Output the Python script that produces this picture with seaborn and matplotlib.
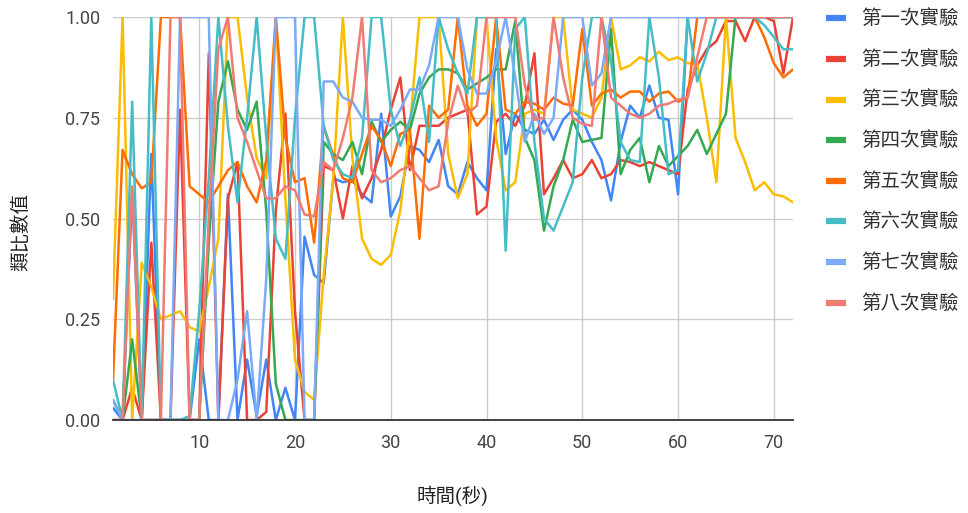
import numpy as np
import pandas as pd
import seaborn as sns
import matplotlib.pyplot as plt

# time axis (seconds)
seconds = list(range(1, 73))

series_names = ["第一次實驗", "第二次實驗", "第三次實驗", "第四次實驗",
                "第五次實驗", "第六次實驗", "第七次實驗", "第八次實驗"]
colors = ["#4285F4", "#EA4335", "#FBBC04", "#34A853",
          "#FF6D01", "#46BDC6", "#7BAAF7", "#F07B72"]

run1 = [0.03, 0.0, 0.57, 0.0, 0.66, 0.0, 0.0, 0.0, 0.0, 0.2,
        0.0, 0.0, 0.56, 0.0, 0.15, 0.01, 0.15, 0.0, 0.08, 0.0,
        0.455, 0.36, 0.34, 0.60, 0.59, 0.595, 0.56, 0.54, 0.76, 0.505,
        0.555, 0.68, 0.67, 0.64, 0.695, 0.58, 0.56, 0.64, 0.60, 0.57,
        0.92, 0.66, 0.76, 0.72, 0.71, 0.745, 0.695, 0.745, 0.77, 0.745,
        0.69, 0.645, 0.545, 0.69, 0.78, 0.75, 0.83, 0.75, 0.745, 0.56,
        1.0, 1.0, 1.0, 1.0, 1.0, 1.0, 1.0, 1.0, 1.0, 1.0,
        1.0, 1.0]
run2 = [0.0, 0.0, 0.08, 0.0, 0.44, 0.0, 0.0, 0.77, 0.0, 0.0,
        0.91, 0.0, 0.55, 0.64, 0.0, 0.0, 0.02, 0.52, 0.76, 0.27,
        0.0, 0.0, 0.63, 0.62, 0.50, 0.63, 0.55, 0.60, 0.67, 0.77,
        0.85, 0.62, 0.73, 0.73, 0.73, 0.75, 0.76, 0.77, 0.51, 0.53,
        0.74, 0.76, 0.73, 0.78, 0.91, 0.56, 0.60, 0.645, 0.60, 0.61,
        0.645, 0.60, 0.61, 0.645, 0.64, 0.63, 0.64, 0.63, 0.62, 0.61,
        0.82, 0.88, 0.92, 0.94, 0.99, 0.99, 0.94, 1.0, 1.0, 0.99,
        0.86, 1.0]
run3 = [0.3, 1.0, 0.0, 0.39, 0.33, 0.25, 0.26, 0.27, 0.23, 0.22,
        0.33, 0.45, 1.0, 1.0, 0.8, 0.65, 0.6, 1.0, 0.55, 0.15,
        0.07, 0.05, 0.36, 0.6, 1.0, 0.65, 0.45, 0.40, 0.385, 0.41,
        0.52, 0.73, 1.0, 1.0, 1.0, 0.66, 0.55, 0.61, 1.0, 1.0,
        0.7, 0.57, 0.59, 0.76, 0.77, 0.76, 1.0, 1.0, 0.77, 0.76,
        0.75, 0.8, 1.0, 0.87, 0.88, 0.9, 0.89, 0.914, 0.893, 0.9,
        0.885, 0.885, 0.75, 0.59, 1.0, 0.70, 0.64, 0.57, 0.59, 0.56,
        0.555, 0.54]
run4 = [0.05, 0.0, 0.2, 0.0, 0.0, 0.0, 0.0, 0.0, 0.0, 0.0,
        0.44, 0.79, 0.89, 0.77, 0.72, 0.79, 0.52, 0.09, 0.0, 0.0,
        0.0, 0.0, 0.69, 0.66, 0.645, 0.69, 0.61, 0.74, 0.69, 0.72,
        0.74, 0.72, 0.81, 0.85, 0.87, 0.87, 0.86, 0.82, 0.835, 0.85,
        0.87, 0.87, 0.99, 0.70, 0.645, 0.47, 0.58, 0.645, 0.745, 0.69,
        0.695, 0.70, 0.97, 0.61, 0.67, 0.70, 0.59, 0.68, 0.63, 0.655,
        0.68, 0.72, 0.66, 0.71, 0.76, 1.0, 1.0, 1.0, 1.0, 1.0,
        1.0, 1.0]
run5 = [0.1, 0.67, 0.61, 0.575, 0.59, 1.0, 1.0, 1.0, 0.58, 0.56,
        0.54, 0.58, 0.62, 0.64, 0.58, 0.54, 0.645, 1.0, 0.7, 0.59,
        0.6, 0.44, 0.73, 0.655, 0.6, 0.59, 0.66, 0.73, 0.695, 0.63,
        0.71, 0.72, 0.45, 0.78, 0.75, 0.77, 1.0, 0.78, 0.73, 0.76,
        1.0, 0.77, 0.76, 0.79, 0.785, 0.77, 0.8, 0.785, 0.78, 0.97,
        0.78, 0.81, 0.82, 0.8, 0.815, 0.815, 0.79, 0.81, 0.815, 0.79,
        0.8, 1.0, 1.0, 1.0, 1.0, 1.0, 1.0, 1.0, 0.95, 0.885,
        0.85, 0.87]
run6 = [0.1, 0.0, 0.79, 0.0, 1.0, 0.0, 0.0, 0.0, 0.01, 0.27,
        0.6, 1.0, 0.73, 0.54, 0.75, 1.0, 0.7, 0.45, 0.4, 0.75,
        1.0, 1.0, 0.73, 0.645, 0.61, 0.6, 0.7, 1.0, 1.0, 0.77,
        0.68, 0.745, 0.85, 0.69, 1.0, 0.92, 0.86, 0.81, 1.0, 1.0,
        1.0, 0.42, 0.97, 1.0, 0.69, 0.5, 0.47, 0.53, 0.59, 0.85,
        1.0, 1.0, 0.89, 0.69, 0.645, 0.64, 1.0, 0.85, 0.61, 0.62,
        1.0, 0.84, 0.91, 1.0, 1.0, 1.0, 1.0, 1.0, 0.98, 0.95,
        0.92, 0.92]
run7 = [0.05, 0.0, 0.0, 0.0, 0.0, 0.0, 0.0, 1.0, 1.0, 1.0,
        1.0, 0.0, 0.0, 0.1, 0.27, 0.0, 0.35, 1.0, 1.0, 1.0,
        0.0, 0.0, 0.84, 0.84, 0.8, 0.79, 0.75, 0.745, 0.745, 0.73,
        0.77, 0.82, 0.82, 0.88, 1.0, 1.0, 1.0, 0.87, 0.81, 0.81,
        0.89, 1.0, 0.85, 0.69, 0.76, 0.71, 0.75, 1.0, 1.0, 1.0,
        0.83, 0.86, 1.0, 1.0, 1.0, 1.0, 1.0, 1.0, 1.0, 1.0,
        1.0, 1.0, 1.0, 1.0, 1.0, 1.0, 1.0, 1.0, 1.0, 1.0,
        1.0, 1.0]
run8 = [0.0, 0.0, 0.58, 0.0, 0.0, 0.0, 1.0, 1.0, 0.0, 0.0,
        0.5, 0.92, 1.0, 0.75, 0.69, 0.62, 0.55, 0.55, 0.58, 0.57,
        0.51, 0.505, 0.64, 0.62, 0.70, 0.80, 1.0, 0.62, 0.59, 0.6,
        0.62, 0.63, 0.6, 0.57, 0.58, 0.74, 0.83, 0.76, 0.78, 1.0,
        1.0, 1.0, 1.0, 0.83, 0.745, 0.75, 1.0, 0.85, 0.75, 0.735,
        0.73, 1.0, 0.8, 0.78, 0.76, 0.75, 0.76, 0.78, 0.785, 0.795,
        0.8, 0.9, 1.0, 1.0, 1.0, 1.0, 1.0, 1.0, 1.0, 1.0,
        1.0, 1.0]

runs = [run1, run2, run3, run4, run5, run6, run7, run8]
frames = []
for name, vals in zip(series_names, runs):
    frames.append(pd.DataFrame({"時間(秒)": seconds, "類比數值": vals, "實驗": name}))
df = pd.concat(frames, ignore_index=True)

sns.set_style("white")
plt.rcParams["font.family"] = ["Roboto", "Noto Sans CJK TC", "DejaVu Sans"]

fig = plt.figure(figsize=(9.68, 5.13), dpi=100)
ax = fig.add_axes([113 / 968, 93 / 513, 680 / 968, 403 / 513])

sns.lineplot(data=df, x="時間(秒)", y="類比數值", hue="實驗",
             palette=colors, linewidth=1.8, ax=ax, legend=False)

ax.set_xlim(1, 72)
ax.set_ylim(0, 1)
ax.set_xticks([10, 20, 30, 40, 50, 60, 70])
ax.set_yticks([0, 0.25, 0.5, 0.75, 1.0])
ax.set_yticklabels(["0.00", "0.25", "0.50", "0.75", "1.00"])
ax.grid(True, color="#cccccc", linewidth=1)
ax.set_axisbelow(True)
for s in ["top", "right", "left"]:
    ax.spines[s].set_visible(False)
ax.spines["bottom"].set_color("#333333")
ax.spines["bottom"].set_linewidth(1.3)
ax.tick_params(axis="both", length=0, labelsize=13, colors="#444444")
ax.tick_params(axis="x", pad=10)
ax.tick_params(axis="y", pad=9)
ax.set_xlabel("")
ax.set_ylabel("")

fig.text(452 / 968, 1 - 496 / 513, "時間(秒)", ha="center", va="center",
         fontsize=14, color="#222222")
fig.text(21 / 968, 1 - 232 / 513, "類比數值", ha="center", va="center",
         rotation=90, fontsize=14, color="#222222")

handles = [plt.Line2D([], [], color=c, linewidth=4.5, solid_capstyle="butt")
           for c in colors]
fig.legend(handles, series_names, loc="upper left",
           bbox_to_anchor=(826 / 968, 1 - 10 / 513), frameon=False,
           fontsize=14, handlelength=1.03, handletextpad=0.77,
           labelspacing=1.11, borderpad=0, borderaxespad=0,
           labelcolor="#333333")

fig.savefig("out.png", dpi=100)
